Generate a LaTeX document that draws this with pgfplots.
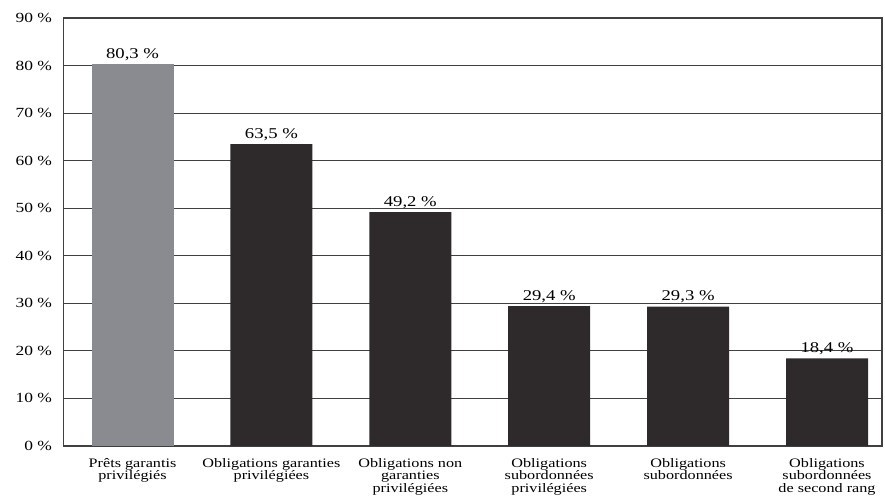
\documentclass[border=0pt]{standalone}
\usepackage{pgfplots}
\pgfplotsset{compat=1.18}
\usepackage{fontspec}
\setmainfont{Liberation Serif}[FakeStretch=1.25]
\definecolor{barlight}{HTML}{8A8B90}
\definecolor{bardark}{HTML}{2E2A2B}
\definecolor{axisgray}{HTML}{404040}
\begin{document}
\begin{tikzpicture}
\begin{axis}[
  scale only axis,
  width=818.5bp, height=428bp,
  xmin=-0.497, xmax=5.396,
  ymin=0, ymax=90,
  ytick={0,10,...,90},
  yticklabel={\pgfmathprintnumber{\tick}~\%},
  /pgf/number format/assume math mode=true,
  ymajorgrids,
  grid style={axisgray, line width=1pt},
  axis line style={axisgray, line width=1.2pt},
  major tick length=0pt,
  xtick={0,1,2,3,4,5},
  xticklabels={
    {Prêts garantis\\privilégiés},
    {Obligations garanties\\privilégiées},
    {Obligations non\\garanties\\privilégiées},
    {Obligations\\subordonnées\\privilégiées},
    {Obligations\\subordonnées},
    {Obligations\\subordonnées\\de second rang}},
  xticklabel style={align=center, font=\fontsize{13}{12.5}\selectfont, yshift=-9bp},
  yticklabel style={font=\fontsize{14}{15}\selectfont, xshift=-8bp},
  ybar, bar width=82bp, bar shift=0pt,
  nodes near coords={\pgfmathprintnumber[fixed,fixed zerofill,precision=1,use comma]{\pgfplotspointmeta}~\%},
  nodes near coords style={font=\fontsize{15}{16}\selectfont, yshift=0bp},
]
\addplot[fill=barlight, draw=none] coordinates {(0,80.3)};
\addplot[fill=bardark, draw=none] coordinates {(1,63.5) (2,49.2) (3,29.4) (4,29.3) (5,18.4)};
\end{axis}
\pgfresetboundingbox
\path ([xshift=-63.5bp,yshift=-55bp]current axis.south west) rectangle ([xshift=3bp,yshift=18bp]current axis.north east);
\end{tikzpicture}
\end{document}
